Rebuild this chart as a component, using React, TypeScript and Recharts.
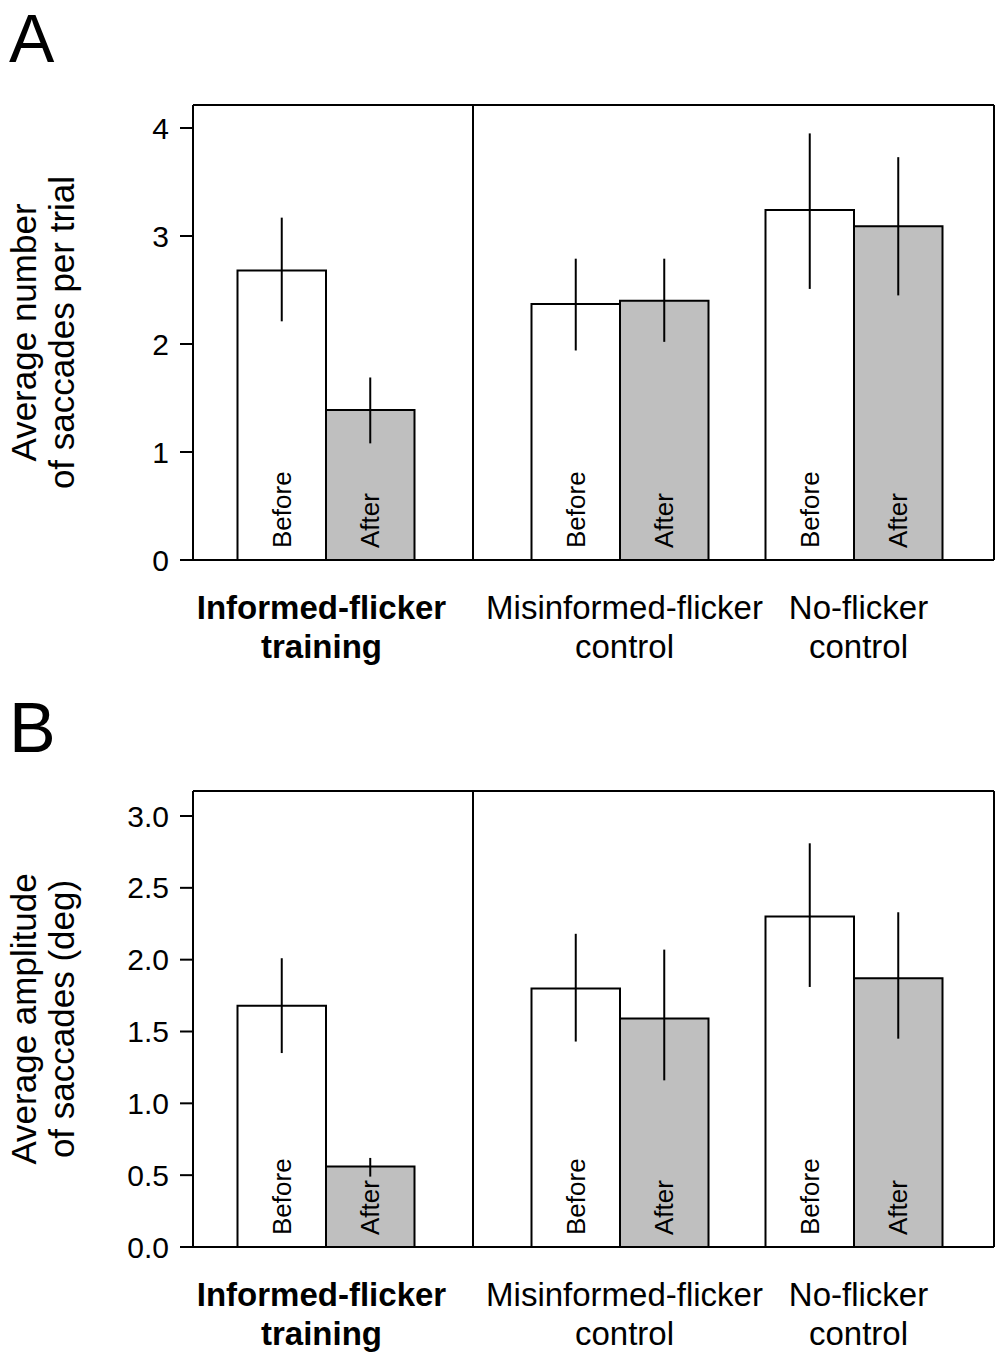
import { BarChart, Bar, XAxis, YAxis, ErrorBar, LabelList, CartesianGrid } from 'recharts'

const FONT = '"Liberation Sans", Arial, Helvetica, sans-serif'

const groups = ['informed', 'misinformed', 'noFlicker']
const groupLabels = [
  ['Informed-flicker', 'training'],
  ['Misinformed-flicker', 'control'],
  ['No-flicker', 'control'],
]
const barNames = ['Before', 'After']

// A: average number of saccades per trial
const countBefore = [2.68, 2.37, 3.24]
const countBeforeHigh = [3.17, 2.79, 3.95]
const countBeforeLow = [2.21, 1.94, 2.51]
const countAfter = [1.39, 2.4, 3.09]
const countAfterHigh = [1.69, 2.79, 3.73]
const countAfterLow = [1.08, 2.02, 2.45]
const countTicks = [0, 1, 2, 3, 4]

// B: average amplitude of saccades (deg)
const ampBefore = [1.68, 1.8, 2.3]
const ampBeforeHigh = [2.01, 2.18, 2.81]
const ampBeforeLow = [1.35, 1.43, 1.81]
const ampAfter = [0.56, 1.59, 1.87]
const ampAfterHigh = [0.62, 2.07, 2.33]
const ampAfterLow = [0.49, 1.16, 1.45]
const ampTicks = [0, 0.5, 1, 1.5, 2, 2.5, 3]

function buildRows(
  before: number[],
  beforeHi: number[],
  beforeLo: number[],
  after: number[],
  afterHi: number[],
  afterLo: number[]
) {
  return groups.map((group, i) => ({
    group,
    before: before[i],
    after: after[i],
    beforeErr: [before[i] - beforeLo[i], beforeHi[i] - before[i]],
    afterErr: [after[i] - afterLo[i], afterHi[i] - after[i]],
  }))
}

const countRows = buildRows(countBefore, countBeforeHigh, countBeforeLow, countAfter, countAfterHigh, countAfterLow)
const ampRows = buildRows(ampBefore, ampBeforeHigh, ampBeforeLow, ampAfter, ampAfterHigh, ampAfterLow)

const black = { stroke: '#000', strokeWidth: 2 }

// small horizontal nudge of the group captions
const captionShift = [-4, 5, 5]

const GroupTick = (props: any) => {
  const { y, payload } = props
  const idx = groups.indexOf(payload.value)
  const lines = groupLabels[idx]
  const x = props.x + captionShift[idx]
  return (
    <text
      x={x}
      y={y}
      textAnchor="middle"
      fontSize={33}
      fontFamily={FONT}
      fontWeight={idx === 0 ? 700 : 400}
      fill="#000"
    >
      <tspan x={x} dy={59}>{lines[0]}</tspan>
      <tspan x={x} dy={39}>{lines[1]}</tspan>
    </text>
  )
}

const barText = (text: string) => (props: any) => {
  const vb = props.viewBox ?? props
  const tx = vb.x + vb.width / 2 + 9
  const ty = vb.y + vb.height - 12
  return (
    <text
      x={tx}
      y={ty}
      transform={`rotate(-90, ${tx}, ${ty})`}
      fontSize={26}
      fontFamily={FONT}
      fill="#000"
    >
      {text}
    </text>
  )
}

const yLabel = (lines: string[]) => (props: any) => {
  const vb = props.viewBox
  const cx = vb.x + 36
  const cy = vb.y + vb.height / 2
  return (
    <text
      x={cx}
      y={cy}
      transform={`rotate(-90, ${cx}, ${cy})`}
      textAnchor="middle"
      fontSize={35}
      fontFamily={FONT}
      fill="#000"
    >
      <tspan x={cx} dy={0}>{lines[0]}</tspan>
      <tspan x={cx} dy={38}>{lines[1]}</tspan>
    </text>
  )
}

// frame: top edge and left/right edges of the plot area
const frameTop = ({ offset }: any) => [offset.top]
const frameSides = ({ offset }: any) => [offset.left, offset.left + offset.width]

type HalfProps = {
  rows: any[]
  side: 'left' | 'right'
  height: number
  bottom: number
  yMax: number
  ticks: number[]
  fmt: (v: number) => string
  label: string[]
}

function Half({ rows, side, height, bottom, yMax, ticks, fmt, label }: HalfProps) {
  const left = side === 'left'
  return (
    <BarChart
      width={left ? 480 : 595}
      height={height}
      data={rows}
      margin={{ top: 25, right: left ? 7 : 1, left: left ? 0 : 73, bottom }}
      barGap={0}
    >
      <CartesianGrid
        stroke="#000"
        strokeWidth={2}
        horizontal={{ stroke: '#000', strokeWidth: 2 }}
        vertical={{ stroke: '#000', strokeWidth: 2 }}
        horizontalCoordinatesGenerator={frameTop}
        verticalCoordinatesGenerator={frameSides}
      />
      <XAxis
        dataKey="group"
        axisLine={black}
        tickLine={false}
        tickSize={0}
        tickMargin={0}
        height={96}
        interval={0}
        padding={left ? { left: 32.5, right: 47.5 } : { left: 29.5, right: 23.5 }}
        tick={GroupTick}
      />
      {left ? (
        <YAxis
          domain={[0, yMax]}
          ticks={ticks}
          allowDataOverflow
          width={193}
          tickSize={13}
          tickMargin={11}
          tickFormatter={fmt}
          tick={{ fill: '#000', fontSize: 30, fontFamily: FONT }}
          axisLine={black}
          tickLine={black}
          label={yLabel(label)}
        />
      ) : (
        <YAxis hide domain={[0, yMax]} ticks={ticks} allowDataOverflow />
      )}
      <Bar dataKey="before" fill="#fff" stroke="#000" strokeWidth={2} barSize={88.5} isAnimationActive={false}>
        <ErrorBar dataKey="beforeErr" width={0} stroke="#000" strokeWidth={2} direction="y" />
        <LabelList dataKey="before" content={barText(barNames[0])} />
      </Bar>
      <Bar dataKey="after" fill="#bfbfbf" stroke="#000" strokeWidth={2} barSize={88.5} isAnimationActive={false}>
        <ErrorBar dataKey="afterErr" width={0} stroke="#000" strokeWidth={2} direction="y" />
        <LabelList dataKey="after" content={barText(barNames[1])} />
      </Bar>
    </BarChart>
  )
}

function Panel({ rows, top, height, bottom, yMax, ticks, fmt, label }: any) {
  return (
    <>
      <div style={{ position: 'absolute', left: 0, top }}>
        <Half rows={rows.slice(0, 1)} side="left" height={height} bottom={bottom} yMax={yMax} ticks={ticks} fmt={fmt} label={label} />
      </div>
      <div style={{ position: 'absolute', left: 400, top }}>
        <Half rows={rows.slice(1)} side="right" height={height} bottom={bottom} yMax={yMax} ticks={ticks} fmt={fmt} label={label} />
      </div>
    </>
  )
}

export default function App() {
  return (
    <div style={{ position: 'absolute', left: 0, top: 0, width: 995, height: 1353, background: '#fff', overflow: 'hidden' }}>
      <Panel
        rows={countRows}
        top={80}
        height={600}
        bottom={24}
        yMax={4.213}
        ticks={countTicks}
        fmt={(v: number) => String(v)}
        label={['Average number', 'of saccades per trial']}
      />
      <Panel
        rows={ampRows}
        top={766}
        height={587}
        bottom={10}
        yMax={3.174}
        ticks={ampTicks}
        fmt={(v: number) => v.toFixed(1)}
        label={['Average amplitude', 'of saccades (deg)']}
      />
      <svg width={995} height={1353} style={{ position: 'absolute', left: 0, top: 0, pointerEvents: 'none' }}>
        <text x={9} y={62} fontSize={68} fontFamily={FONT} fill="#000">A</text>
        <text x={9} y={752} fontSize={70} fontFamily={FONT} fill="#000">B</text>
      </svg>
    </div>
  )
}
